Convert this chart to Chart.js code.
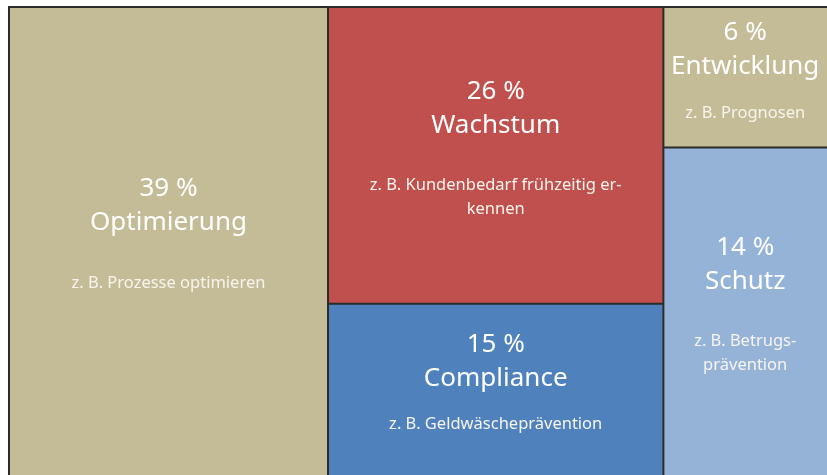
<!DOCTYPE html>
<html lang="de">
<head>
  <meta charset="UTF-8">
  <title>Treemap Anwendungsfelder</title>
  <script src="https://cdn.jsdelivr.net/npm/chart.js"></script>
  <style>
    body { margin: 0; background: #fff; }
    .wrap { width: 827px; height: 475px; }
  </style>
</head>
<body>
  <div class="wrap"><canvas id="tree" width="827" height="475"></canvas></div>

  <script>
    // Data
    const names = ['Optimierung', 'Wachstum', 'Compliance', 'Entwicklung', 'Schutz'];
    const shares = [39, 26, 15, 6, 14];
    const columnOf = [0, 1, 1, 2, 2];
    const examples = [
      ['z. B. Prozesse optimieren'],
      ['z. B. Kundenbedarf frühzeitig er-', 'kennen'],
      ['z. B. Geldwäscheprävention'],
      ['z. B. Prognosen'],
      ['z. B. Betrugs-', 'prävention']
    ];
    const colors = ['#c4bc97', '#c0504d', '#4f81bd', '#c4bc97', '#95b3d7'];

    // slice-and-dice layout in value units (x 0..100, y 0..100)
    function layout() {
      const total = shares.reduce((a, b) => a + b, 0);
      const colTotals = [];
      shares.forEach((v, i) => { colTotals[columnOf[i]] = (colTotals[columnOf[i]] || 0) + v; });
      const cells = [];
      let x = 0;
      colTotals.forEach((ct, c) => {
        const w = ct / total * 100;
        let y = 0;
        shares.forEach((v, i) => {
          if (columnOf[i] !== c) return;
          const h = v / ct * 100;
          cells.push({ i, x0: x, x1: x + w, y0: y, y1: y + h });
          y += h;
        });
        x += w;
      });
      return cells;
    }

    const treemapPlugin = {
      id: 'treemap',
      beforeDatasetsDraw(chart) {
        const ctx = chart.ctx;
        const xs = chart.scales.x, ys = chart.scales.y;
        const cells = layout();
        ctx.save();
        cells.forEach(c => {
          const left = xs.getPixelForValue(c.x0), right = xs.getPixelForValue(c.x1);
          const top = ys.getPixelForValue(c.y0), bottom = ys.getPixelForValue(c.y1);
          ctx.fillStyle = colors[c.i];
          ctx.fillRect(left, top, right - left, bottom - top);
          // only left + top edges, the outer right/bottom run off the picture
          ctx.lineWidth = 2;
          ctx.strokeStyle = '#2b2b2b';
          ctx.beginPath();
          ctx.moveTo(left, bottom);
          ctx.lineTo(left, top);
          ctx.lineTo(right, top);
          ctx.stroke();

          // labels
          const ex = examples[c.i];
          const gap = (bottom - top) < 200 ? 46 : 60;
          const blockH = 34 + gap + 24 * ex.length;
          const cx = (left + right) / 2;
          let y = Math.max(top + 26, (top + bottom) / 2 - blockH / 2 + 7);
          ctx.fillStyle = '#ffffff';
          ctx.textAlign = 'center';
          ctx.textBaseline = 'middle';
          ctx.font = '26px "Noto Sans", sans-serif';
          ctx.fillText(shares[c.i] + ' %', cx, y);
          y += 34;
          ctx.fillText(names[c.i], cx, y);
          y += gap;
          ctx.font = '16.5px "Noto Sans", sans-serif';
          ctx.fillStyle = '#f7f4ee';
          ex.forEach(line => { ctx.fillText(line, cx, y); y += 24; });
        });
        ctx.restore();
      }
    };

    new Chart(document.getElementById('tree'), {
      type: 'scatter',
      data: { datasets: [{ data: [], pointRadius: 0 }] },
      options: {
        responsive: false,
        animation: false,
        layout: { padding: { left: 9, top: 7, right: 0, bottom: 0 } },
        plugins: { legend: { display: false }, tooltip: { enabled: false } },
        scales: {
          x: { type: 'linear', min: 0, max: 100, display: false },
          y: { type: 'linear', min: 0, max: 100, reverse: true, display: false }
        }
      },
      plugins: [treemapPlugin]
    });
  </script>
</body>
</html>
